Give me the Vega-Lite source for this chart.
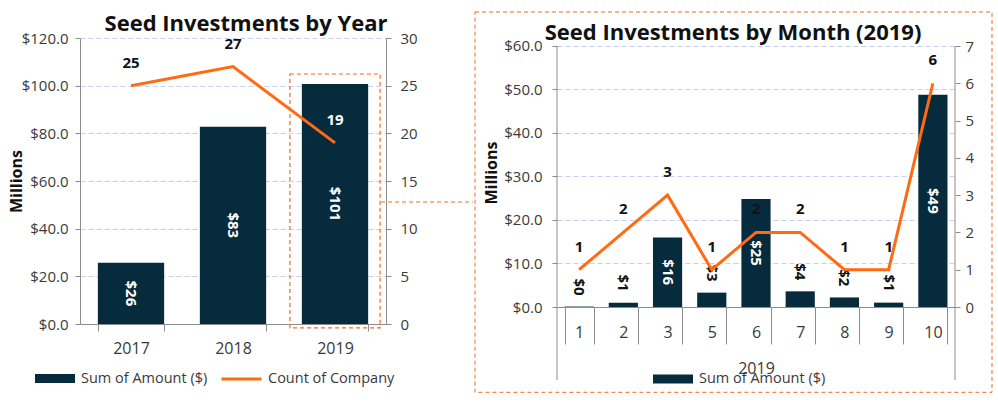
{
  "$schema": "https://vega.github.io/schema/vega-lite/v6.json",
  "background": "white",
  "padding": {"left": 8, "top": 11, "right": 4, "bottom": 4},
  "spacing": 0,
  "datasets": {
    "byYear": [
      {"year": "2017", "amount": 25.7, "count": 25},
      {"year": "2018", "amount": 82.8, "count": 27},
      {"year": "2019", "amount": 100.7, "count": 19}
    ],
    "byMonth": [
      {"month": 1, "amount": 0.1, "count": 1},
      {"month": 2, "amount": 1.0, "count": 2},
      {"month": 3, "amount": 16.0, "count": 3},
      {"month": 5, "amount": 3.3, "count": 1},
      {"month": 6, "amount": 24.8, "count": 2},
      {"month": 7, "amount": 3.6, "count": 2},
      {"month": 8, "amount": 2.2, "count": 1},
      {"month": 9, "amount": 1.0, "count": 1},
      {"month": 10, "amount": 48.8, "count": 6}
    ]
  },
  "config": {
    "font": "Open Sans",
    "view": {"stroke": null},
    "axis": {"labelFont": "Open Sans", "titleFont": "Open Sans", "domainColor": "#8c8c8c", "tickColor": "#8c8c8c", "labelColor": "#3a3a3a", "titleColor": "#111111", "labelFontSize": 15, "labelOverlap": false},
    "legend": {"labelFont": "Open Sans", "labelFontSize": 14.5, "labelColor": "#3a3a3a"},
    "title": {"font": "Open Sans", "fontSize": 22, "fontWeight": "bold", "color": "#111111"}
  },
  "resolve": {"scale": {"fill": "independent", "stroke": "independent"}, "legend": {"fill": "independent", "stroke": "independent"}},
  "hconcat": [
    {
      "width": 306,
      "height": 286,
      "title": {"text": "Seed Investments by Year", "dx": 13, "offset": -5},
      "data": {"name": "byYear"},
      "resolve": {"scale": {"x": "independent", "y": "independent"}},
      "layer": [
        {
          "layer": [
            {
              "mark": {"type": "bar"},
              "encoding": {
                "x": {"field": "year", "type": "nominal", "scale": {"paddingInner": 0.35, "paddingOuter": 0.175},
                  "axis": {"title": null, "labelAngle": 0, "labelFontSize": 16, "tickBand": "extent", "tickSize": 7, "labelPadding": 9}},
                "y": {"field": "amount", "type": "quantitative", "scale": {"domain": [0, 120], "nice": false},
                  "axis": {"title": "Millions", "titleFontSize": 16, "titleFontWeight": "bold", "titlePadding": -3, "format": "$.1f", "values": [0, 20, 40, 60, 80, 100, 120], "tickSize": 5, "labelPadding": 7, "grid": true, "gridColor": "#c5cfee", "gridDash": [5, 3]}},
                "fill": {"datum": "Sum of Amount ($)", "scale": {"range": ["#062B3C"]},
                  "legend": {"orient": "none", "legendX": -46, "legendY": 319.5, "title": null, "symbolType": "M-1,-0.22H1V0.22H-1Z", "symbolSize": 1600, "labelOffset": 5}}
              }
            },
            {
              "transform": [{"filter": "datum.year == '2019'"}],
              "mark": {"type": "bar", "fillOpacity": 0, "stroke": "#F26B21", "strokeWidth": 1.2, "strokeDash": [4, 3], "width": {"band": 1.36}},
              "encoding": {
                "x": {"field": "year", "type": "nominal"},
                "y": {"datum": 104.9},
                "y2": {"datum": -1.6}
              }
            }
          ]
        },
        {
          "mark": {"type": "line", "strokeWidth": 3},
          "encoding": {
            "x": {"field": "year", "type": "nominal", "axis": null},
            "y": {"field": "count", "type": "quantitative", "scale": {"domain": [0, 30], "nice": false},
              "axis": {"orient": "right", "title": null, "values": [0, 5, 10, 15, 20, 25, 30], "tickSize": 5, "labelPadding": 9, "grid": false}},
            "stroke": {"datum": "Count of Company", "scale": {"range": ["#FF6A13"]},
              "legend": {"orient": "none", "legendX": 140, "legendY": 319.5, "title": null, "symbolType": "M-1,0H1", "symbolSize": 1600, "symbolStrokeWidth": 3, "labelOffset": 5}}
          }
        },
        {
          "layer": [
            {
              "transform": [{"filter": "datum.year != '2019'"}],
              "mark": {"type": "text", "fontSize": 15, "fontWeight": "bold", "dy": -23, "baseline": "middle", "color": "#111111"},
              "encoding": {
                "x": {"field": "year", "type": "nominal", "scale": {"domain": ["2017", "2018", "2019"]}, "axis": null},
                "y": {"field": "count", "type": "quantitative", "scale": {"domain": [0, 30], "nice": false}, "axis": null},
                "text": {"field": "count", "type": "quantitative"}
              }
            },
            {
              "transform": [{"filter": "datum.year == '2019'"}],
              "mark": {"type": "text", "fontSize": 15, "fontWeight": "bold", "dy": -23, "baseline": "middle", "color": "white"},
              "encoding": {
                "x": {"field": "year", "type": "nominal", "axis": null},
                "y": {"field": "count", "type": "quantitative", "axis": null},
                "text": {"field": "count", "type": "quantitative"}
              }
            }
          ]
        },
        {
          "mark": {"type": "text", "angle": 90, "fontSize": 15, "fontWeight": "bold", "color": "white", "align": "center", "baseline": "middle"},
          "encoding": {
            "x": {"field": "year", "type": "nominal", "axis": null},
            "y": {"field": "amount", "type": "quantitative", "scale": {"domain": [0, 240], "nice": false}, "axis": null},
            "text": {"field": "amount", "type": "quantitative", "format": "$.0f"}
          }
        },
        {
          "transform": [{"filter": "datum.year == '2019'"}],
          "mark": {"type": "rule", "stroke": "#F26B21", "strokeWidth": 1, "strokeDash": [4, 3]},
          "encoding": {
            "x": {"datum": 0.984, "type": "quantitative", "scale": {"domain": [0, 1], "nice": false, "zero": false}, "axis": null},
            "x2": {"datum": 1.284},
            "y": {"datum": 51.2, "type": "quantitative", "scale": {"domain": [0, 120], "nice": false}, "axis": null}
          }
        }
      ]
    },
    {
      "width": 398,
      "height": 269,
      "title": {"text": "Seed Investments by Month (2019)", "dx": -23, "offset": -34},
      "data": {"name": "byMonth"},
      "resolve": {"scale": {"x": "independent", "y": "independent"}},
      "layer": [
        {
          "layer": [
            {
              "mark": {"type": "bar"},
              "encoding": {
                "x": {"field": "month", "type": "ordinal", "scale": {"domain": [1, 2, 3, 5, 6, 7, 8, 9, 10], "paddingInner": 0.34, "paddingOuter": 0.17},
                  "axis": {"title": "2019", "titleFontSize": 16, "titleFontWeight": "normal", "titleColor": "#3a3a3a", "titlePadding": 16, "labelAngle": 0, "labelFontSize": 16, "tickBand": "extent", "tickSize": 37, "labelPadding": -20}},
                "y": {"field": "amount", "type": "quantitative", "scale": {"domain": [0, 61.839], "nice": false},
                  "axis": {"title": "Millions", "titleFontSize": 16, "titleFontWeight": "bold", "titlePadding": 4, "format": "$.1f", "values": [0, 10, 20, 30, 40, 50, 60], "tickSize": 5, "labelPadding": 10, "domain": false, "grid": true, "gridColor": "#c5cfee", "gridDash": [5, 3]}},
                "fill": {"datum": "Sum of Amount ($)", "scale": {"range": ["#062B3C"]},
                  "legend": {"orient": "none", "legendX": 95, "legendY": 320, "title": null, "symbolType": "M-1,-0.22H1V0.22H-1Z", "symbolSize": 1600, "labelOffset": 5}}
              }
            },
            {
              "transform": [{"filter": "datum.amount < 10"}],
              "mark": {"type": "text", "angle": 90, "fontSize": 15, "fontWeight": "bold", "color": "#111111", "align": "right", "baseline": "middle", "dx": -11},
              "encoding": {
                "x": {"field": "month", "type": "ordinal"},
                "y": {"field": "amount", "type": "quantitative"},
                "text": {"field": "amount", "type": "quantitative", "format": "$.0f"}
              }
            }
          ]
        },
        {
          "mark": {"type": "line", "strokeWidth": 3, "color": "#FF6A13"},
          "encoding": {
            "x": {"field": "month", "type": "ordinal", "scale": {"domain": [1, 2, 3, 5, 6, 7, 8, 9, 10]}, "axis": null},
            "y": {"field": "count", "type": "quantitative", "scale": {"domain": [0, 7.2146], "nice": false},
              "axis": {"orient": "right", "title": null, "values": [0, 1, 2, 3, 4, 5, 6, 7], "tickSize": 5, "labelPadding": 5, "domain": false, "grid": false}}
          }
        },
        {
          "mark": {"type": "text", "fontSize": 15, "fontWeight": "bold", "dy": -23, "baseline": "middle", "color": "#111111"},
          "encoding": {
            "x": {"field": "month", "type": "ordinal", "scale": {"domain": [1, 2, 3, 5, 6, 7, 8, 9, 10]}, "axis": null},
            "y": {"field": "count", "type": "quantitative", "scale": {"domain": [0, 7.2146], "nice": false}, "axis": null},
            "text": {"field": "count", "type": "quantitative"}
          }
        },
        {
          "transform": [{"filter": "datum.amount >= 10"}],
          "mark": {"type": "text", "angle": 90, "fontSize": 15, "fontWeight": "bold", "color": "white", "align": "center", "baseline": "middle"},
          "encoding": {
            "x": {"field": "month", "type": "ordinal", "scale": {"domain": [1, 2, 3, 5, 6, 7, 8, 9, 10]}, "axis": null},
            "y": {"field": "amount", "type": "quantitative", "scale": {"domain": [0, 123.678], "nice": false}, "axis": null},
            "text": {"field": "amount", "type": "quantitative", "format": "$.0f"}
          }
        },
        {
          "transform": [{"filter": "datum.month == 10"}],
          "layer": [
            {
              "mark": {"type": "rect", "fillOpacity": 0, "stroke": "#F26B21", "strokeWidth": 1, "strokeDash": [4, 3]},
              "encoding": {
                "x": {"datum": -0.206, "type": "quantitative", "scale": {"domain": [0, 1], "nice": false, "zero": false}, "axis": null},
                "x2": {"datum": 1.093},
                "y": {"datum": 67.82, "type": "quantitative", "scale": {"domain": [0, 61.839], "nice": false}, "axis": null},
                "y2": {"datum": -19.61}
              }
            },
            {
              "mark": {"type": "rule", "stroke": "#8c8c8c", "strokeWidth": 1},
              "encoding": {
                "x": {"datum": 0, "type": "quantitative", "axis": null},
                "y": {"datum": 60, "type": "quantitative", "axis": null},
                "y2": {"datum": -16.8}
              }
            },
            {
              "mark": {"type": "rule", "stroke": "#8c8c8c", "strokeWidth": 1},
              "encoding": {
                "x": {"datum": 1, "type": "quantitative", "axis": null},
                "y": {"datum": 60, "type": "quantitative", "axis": null},
                "y2": {"datum": -16.8}
              }
            }
          ]
        }
      ]
    }
  ]
}
